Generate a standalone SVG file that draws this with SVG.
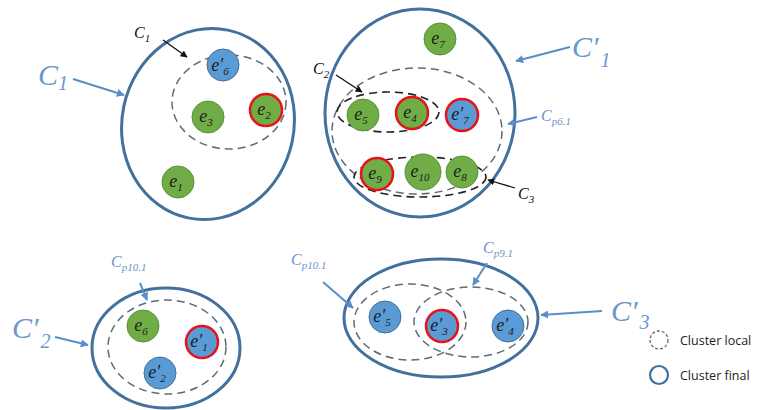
<svg xmlns="http://www.w3.org/2000/svg" width="759" height="410" viewBox="0 0 759 410">
<defs>
<marker id="ab" viewBox="0 0 10 10" refX="9" refY="5" markerWidth="7" markerHeight="7" orient="auto" markerUnits="userSpaceOnUse"><path d="M0,0 L10,5 L0,10 z" fill="#111"/></marker>
<marker id="au" viewBox="0 0 10 10" refX="9" refY="5" markerWidth="8" markerHeight="8" orient="auto" markerUnits="userSpaceOnUse"><path d="M0,0 L10,5 L0,10 z" fill="#5b8ec8"/></marker>
</defs>
<style>
.final{fill:none;stroke:#41719c;stroke-width:3}
.local{fill:none;stroke:#5d6b78;stroke-width:1.5;stroke-dasharray:8 5}
.localb{fill:none;stroke:#222;stroke-width:1.6;stroke-dasharray:8 5}
.g{fill:#70ad47;stroke:#5a8f3a;stroke-width:1}
.b{fill:#5b9bd5;stroke:#41719c;stroke-width:1}
.gr{fill:#70ad47;stroke:#e8121c;stroke-width:2.5}
.br{fill:#5b9bd5;stroke:#e8121c;stroke-width:2.5}
.nt{font-family:"Liberation Serif",serif;font-style:italic;font-size:18px;fill:#1c1c1c;text-anchor:middle}
.lb{font-family:"Liberation Serif",serif;font-style:italic;font-size:16px;fill:#111}
.lu{font-family:"Liberation Serif",serif;font-style:italic;font-size:16px;fill:#6a96cc}
.big{font-family:"Liberation Serif",serif;font-style:italic;font-size:30px;fill:#6a96cc}
.leg{font-family:"Open Sans","Liberation Sans",sans-serif;font-size:12.5px;fill:#222}
.ab{stroke:#111;stroke-width:1.3;fill:none;marker-end:url(#ab)}
.au{stroke:#5b8ec8;stroke-width:2;fill:none;marker-end:url(#au)}
</style>

<g id="cluster-C1">
<ellipse class="final" cx="208" cy="124" rx="86" ry="96" transform="rotate(12 208 124)"/>
<ellipse class="local" cx="229" cy="102" rx="57" ry="47"/>
</g>
<g id="cluster-C1p">
<ellipse class="final" cx="420" cy="113" rx="95" ry="104"/>
<ellipse class="local" cx="417" cy="131" rx="85" ry="63"/>
<ellipse class="localb" cx="388" cy="112" rx="51" ry="20"/>
<ellipse class="localb" cx="420" cy="177" rx="66" ry="20"/>
</g>
<g id="cluster-C2p">
<ellipse class="final" cx="166" cy="348" rx="74" ry="60"/>
<ellipse class="local" cx="167" cy="347" rx="59" ry="47"/>
</g>
<g id="cluster-C3p">
<ellipse class="final" cx="441" cy="318" rx="97" ry="59"/>
<ellipse class="local" cx="410" cy="322" rx="56" ry="38"/>
<ellipse class="local" cx="471" cy="322" rx="57" ry="35"/>
</g>

<g id="e6p"><circle class="b" cx="223" cy="65" r="16"/><text class="nt" x="220" y="71">e′<tspan font-size="11" dy="4">6</tspan></text></g>
<g id="e3"><circle class="g" cx="208" cy="117" r="16"/><text class="nt" x="206" y="122">e<tspan font-size="11" dy="4">3</tspan></text></g>
<g id="e2"><circle class="gr" cx="266" cy="110" r="16"/><text class="nt" x="264" y="115">e<tspan font-size="11" dy="4">2</tspan></text></g>
<g id="e1"><circle class="g" cx="178" cy="182" r="16"/><text class="nt" x="176" y="187">e<tspan font-size="11" dy="4">1</tspan></text></g>

<g id="e7"><circle class="g" cx="440" cy="39" r="16"/><text class="nt" x="438" y="44">e<tspan font-size="11" dy="4">7</tspan></text></g>
<g id="e5"><circle class="g" cx="363" cy="115" r="16"/><text class="nt" x="361" y="120">e<tspan font-size="11" dy="4">5</tspan></text></g>
<g id="e4"><circle class="gr" cx="412" cy="113" r="16"/><text class="nt" x="410" y="118">e<tspan font-size="11" dy="4">4</tspan></text></g>
<g id="e7p"><circle class="br" cx="462" cy="115" r="16"/><text class="nt" x="460" y="120">e′<tspan font-size="11" dy="4">7</tspan></text></g>
<g id="e9"><circle class="gr" cx="377" cy="174" r="16"/><text class="nt" x="375" y="179">e<tspan font-size="11" dy="4">9</tspan></text></g>
<g id="e10"><circle class="g" cx="423" cy="172" r="18"/><text class="nt" x="420" y="177">e<tspan font-size="11" dy="4">10</tspan></text></g>
<g id="e8"><circle class="g" cx="462" cy="172" r="16"/><text class="nt" x="460" y="177">e<tspan font-size="11" dy="4">8</tspan></text></g>

<g id="e6"><circle class="g" cx="143" cy="326" r="16"/><text class="nt" x="141" y="331">e<tspan font-size="11" dy="4">6</tspan></text></g>
<g id="e1p"><circle class="br" cx="202" cy="342" r="16"/><text class="nt" x="199" y="347">e′<tspan font-size="11" dy="4">1</tspan></text></g>
<g id="e2p"><circle class="b" cx="160" cy="373" r="16"/><text class="nt" x="157" y="378">e′<tspan font-size="11" dy="4">2</tspan></text></g>

<g id="e5p"><circle class="b" cx="385" cy="317" r="16"/><text class="nt" x="382" y="322">e′<tspan font-size="11" dy="4">5</tspan></text></g>
<g id="e3p"><circle class="br" cx="442" cy="326" r="16"/><text class="nt" x="439" y="331">e′<tspan font-size="11" dy="4">3</tspan></text></g>
<g id="e4p"><circle class="b" cx="508" cy="326" r="16"/><text class="nt" x="505" y="331">e′<tspan font-size="11" dy="4">4</tspan></text></g>

<g id="connectors">
<line class="ab" x1="163" y1="40" x2="187" y2="57"/>
<line class="au" x1="73" y1="79" x2="124" y2="95"/>
<line class="ab" x1="336" y1="75" x2="362" y2="92"/>
<line class="ab" x1="515" y1="188" x2="488" y2="180"/>
<line class="au" x1="537" y1="117" x2="508" y2="124"/>
<line class="au" x1="570" y1="47" x2="516" y2="61"/>
<line class="au" x1="140" y1="283" x2="147" y2="300"/>
<line class="au" x1="55" y1="337" x2="88" y2="345"/>
<line class="au" x1="323" y1="282" x2="353" y2="308"/>
<line class="au" x1="487" y1="263" x2="473" y2="285"/>
<line class="au" x1="602" y1="311" x2="541" y2="315"/>
</g>

<g id="labels">
<text class="lb" x="134" y="38">C<tspan font-size="11" dy="4">1</tspan></text>
<text class="big" x="38" y="85">C<tspan font-size="20" dy="5">1</tspan></text>
<text class="lb" x="313" y="74">C<tspan font-size="11" dy="4">2</tspan></text>
<text class="lb" x="518" y="199">C<tspan font-size="11" dy="4">3</tspan></text>
<text class="lu" x="541" y="121">C<tspan font-size="11" dy="4">p6.1</tspan></text>
<text class="big" x="572" y="57">C′<tspan font-size="20" dx="2" dy="10">1</tspan></text>
<text class="lu" x="111" y="267">C<tspan font-size="11" dy="4">p10.1</tspan></text>
<text class="big" x="12" y="338">C′<tspan font-size="20" dx="2" dy="10">2</tspan></text>
<text class="lu" x="291" y="265">C<tspan font-size="11" dy="4">p10.1</tspan></text>
<text class="lu" x="483" y="253">C<tspan font-size="11" dy="4">p9.1</tspan></text>
<text class="big" x="611" y="321">C′<tspan font-size="20" dx="2" dy="8">3</tspan></text>
</g>

<g id="legend">
<circle cx="659" cy="340" r="9" fill="none" stroke="#5d6b78" stroke-width="1.3" stroke-dasharray="3 2"/>
<text class="leg" x="680" y="345">Cluster local</text>
<circle cx="659" cy="375" r="9" fill="none" stroke="#41719c" stroke-width="2.2"/>
<text class="leg" x="680" y="380">Cluster final</text>
</g>
</svg>
